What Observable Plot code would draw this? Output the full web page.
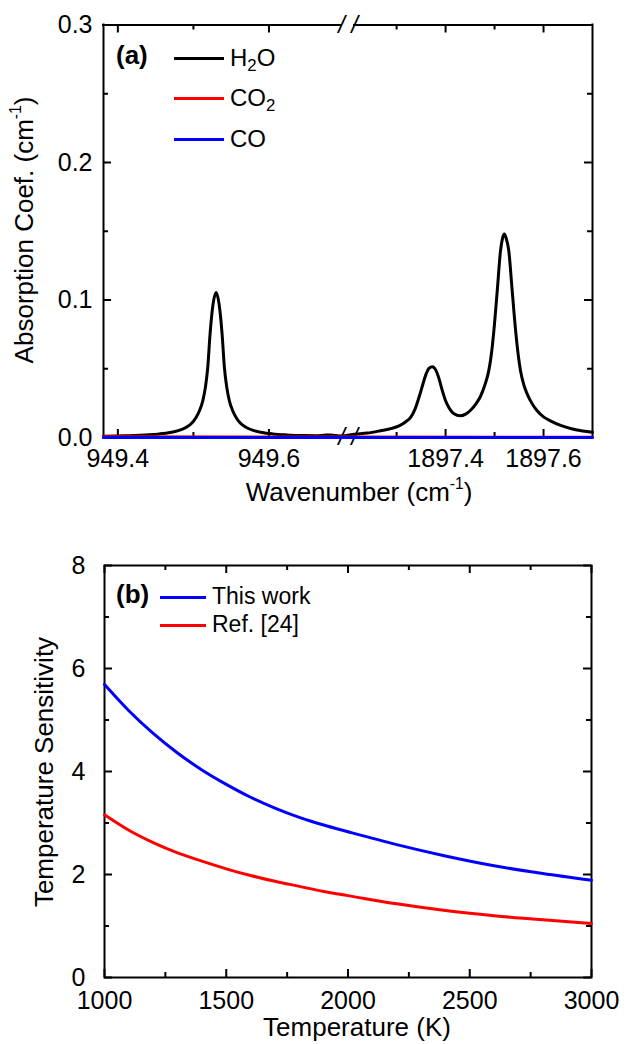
<!DOCTYPE html>
<html>
<head>
<meta charset="utf-8">
<script src="https://cdn.jsdelivr.net/npm/d3@7"></script>
<script src="https://cdn.jsdelivr.net/npm/@observablehq/plot@0.6"></script>
<style>
  body { margin: 0; background: #fff; font-family: "Liberation Sans", Arial, sans-serif; }
  #wrap { position: relative; width: 627px; height: 1044px; overflow: hidden; background: #fff; }
  #wrap > svg { position: absolute; left: 0; }
  .t { position: absolute; white-space: nowrap; line-height: 1; color: #000; }
  .t sup { font-size: 0.6em; vertical-align: baseline; position: relative; top: -0.75em; }
  .t sub { font-size: 0.7em; vertical-align: baseline; position: relative; top: 0.3em; }
  .sw { position: absolute; height: 3px; }
</style>
</head>
<body>
<div id="wrap"></div>
<script>
// ---------- Panel (a): absorption spectra (broken wavenumber axis) ----------
const wnLeftSeg = [949.381, 949.696];
const wnRightSeg = [1897.214, 1897.7];

const h2oWavenumber = [
  949.381, 949.41, 949.437, 949.455, 949.469, 949.480, 949.490, 949.497, 949.5035, 949.508,
  949.5124, 949.516, 949.519, 949.522, 949.526, 949.530, 949.534, 949.538, 949.541, 949.544,
  949.5476, 949.552, 949.5565, 949.562, 949.570, 949.580, 949.591, 949.605, 949.623, 949.645,
  949.662, 949.673, 949.681, 949.688, 949.696,
  1897.214, 1897.24, 1897.267, 1897.290, 1897.305, 1897.318, 1897.3286, 1897.338, 1897.3456, 1897.353,
  1897.359, 1897.366, 1897.373, 1897.380, 1897.3864, 1897.393, 1897.400, 1897.408, 1897.417, 1897.430,
  1897.441, 1897.451, 1897.462, 1897.4714, 1897.480, 1897.4884, 1897.494, 1897.4986, 1897.5055, 1897.5122,
  1897.516, 1897.520, 1897.524, 1897.529, 1897.536, 1897.543, 1897.548, 1897.553, 1897.560, 1897.5667,
  1897.576, 1897.587, 1897.600, 1897.614, 1897.635, 1897.655, 1897.680, 1897.700
];
const h2oAbsorption = [
  0.0010, 0.0012, 0.0019, 0.0026, 0.0036, 0.0050, 0.0073, 0.0100, 0.0146, 0.0195,
  0.0267, 0.0370, 0.0510, 0.0750, 0.0970, 0.1055, 0.0970, 0.0750, 0.0510, 0.0370,
  0.0267, 0.0195, 0.0146, 0.0105, 0.0073, 0.0050, 0.0036, 0.0026, 0.0019, 0.0014,
  0.0013, 0.0017, 0.0019, 0.0015, 0.0011,
  0.0024, 0.0032, 0.0049, 0.0066, 0.0085, 0.0113, 0.0146, 0.0210, 0.0291, 0.0380,
  0.0450, 0.0503, 0.0515, 0.0490, 0.0430, 0.0345, 0.0267, 0.0210, 0.0173, 0.0158,
  0.0170, 0.0198, 0.0245, 0.0300, 0.0380, 0.0490, 0.0620, 0.0777, 0.1068, 0.1359,
  0.1445, 0.1480, 0.1445, 0.1359, 0.1068, 0.0777, 0.0610, 0.0485, 0.0380, 0.0316,
  0.0250, 0.0194, 0.0150, 0.0121, 0.0088, 0.0066, 0.0048, 0.0038
];
const co2Wavenumber = [949.381, 949.696, 1897.214, 1897.7];
const co2Absorption = [0.0005, 0.0004, 0.0003, 0.0001];
const coWavenumber = [949.381, 949.696, 1897.214, 1897.7];
const coAbsorption = [0, 0, 0, 0];

const aMajorX = [949.4, 949.6, 1897.4, 1897.6];
const aMajorXLabels = ["949.4", "949.6", "1897.4", "1897.6"];
const aMinorX = [949.5, 1897.3, 1897.5];
const aMajorY = [0, 0.1, 0.2, 0.3];
const aMinorY = [0.05, 0.15, 0.25];

// ---------- Panel (b): temperature sensitivity ----------
const temperature = [1000, 1100, 1200, 1300, 1400, 1500, 1600, 1700, 1800, 1900, 2000, 2200, 2400, 2600, 2800, 3000];
const thisWork = [5.69, 5.18, 4.74, 4.36, 4.03, 3.75, 3.50, 3.29, 3.11, 2.96, 2.83, 2.58, 2.36, 2.17, 2.02, 1.89];
const ref24 = [3.16, 2.86, 2.62, 2.42, 2.26, 2.11, 1.98, 1.87, 1.77, 1.67, 1.59, 1.43, 1.30, 1.20, 1.12, 1.05];

const bMajorX = [1000, 1500, 2000, 2500, 3000];
const bMinorX = [1250, 1750, 2250, 2750];
const bMajorY = [0, 2, 4, 6, 8];
const bMinorY = [1, 3, 5, 7];

// ---------- broken-axis mapping (wavenumber -> position along axis) ----------
const uLeft = [0, 0.4867], uRight = [0.5133, 1];
function toU(w) {
  if (w < 1400) return uLeft[0] + (w - wnLeftSeg[0]) / (wnLeftSeg[1] - wnLeftSeg[0]) * (uLeft[1] - uLeft[0]);
  return uRight[0] + (w - wnRightSeg[0]) / (wnRightSeg[1] - wnRightSeg[0]) * (uRight[1] - uRight[0]);
}

const FONT = '"Liberation Sans", Arial, Helvetica, sans-serif';
const baseStyle = {fontFamily: FONT, fontSize: "25px", color: "black", background: "white", overflow: "visible"};

const h2o = h2oWavenumber.map((w, i) => ({w, a: h2oAbsorption[i]}));
const co2 = co2Wavenumber.map((w, i) => ({w, a: co2Absorption[i]}));
const co = coWavenumber.map((w, i) => ({w, a: coAbsorption[i]}));
const labelByU = new Map(aMajorX.map((w, i) => [toU(w), aMajorXLabels[i]]));

const yTop = aMajorY[aMajorY.length - 1];
const frameSegs = [
  {y: yTop, a: wnLeftSeg[0], b: wnLeftSeg[1]},
  {y: yTop, a: wnRightSeg[0], b: wnRightSeg[1]},
  {y: 0, a: wnLeftSeg[0], b: wnLeftSeg[1]},
  {y: 0, a: wnRightSeg[0], b: wnRightSeg[1]}
];
const breakMarks = [
  {w: wnLeftSeg[1], y: yTop}, {w: wnRightSeg[0], y: yTop},
  {w: wnLeftSeg[1], y: 0}, {w: wnRightSeg[0], y: 0}
];

const fhA = 412.5, fwA = 489;
const plotA = Plot.plot({
  width: 627, height: 520,
  marginTop: 24.5, marginBottom: 83, marginLeft: 103, marginRight: 35,
  x: {domain: [0, 1]},
  y: {domain: [0, 0.3]},
  style: baseStyle,
  marks: [
    Plot.ruleX([wnLeftSeg[0], wnRightSeg[1]], {x: d => toU(d), stroke: "black", strokeWidth: 2, strokeLinecap: "square"}),
    Plot.ruleY(frameSegs, {y: "y", x1: d => toU(d.a), x2: d => toU(d.b), stroke: "black", strokeWidth: 2, strokeLinecap: "square"}),
    // inward ticks (bottom / top)
    Plot.ruleX(aMajorX, {x: d => toU(d), insetTop: fhA - 8, stroke: "black", strokeWidth: 2}),
    Plot.ruleX(aMajorX, {x: d => toU(d), insetBottom: fhA - 8, stroke: "black", strokeWidth: 2}),
    Plot.ruleX(aMinorX, {x: d => toU(d), insetTop: fhA - 5, stroke: "black", strokeWidth: 2}),
    Plot.ruleX(aMinorX, {x: d => toU(d), insetBottom: fhA - 5, stroke: "black", strokeWidth: 2}),
    // inward ticks (left / right)
    Plot.ruleY(aMajorY, {y: d => d, insetRight: fwA - 8, stroke: "black", strokeWidth: 2}),
    Plot.ruleY(aMajorY, {y: d => d, insetLeft: fwA - 8, stroke: "black", strokeWidth: 2}),
    Plot.ruleY(aMinorY, {y: d => d, insetRight: fwA - 5, stroke: "black", strokeWidth: 2}),
    Plot.ruleY(aMinorY, {y: d => d, insetLeft: fwA - 5, stroke: "black", strokeWidth: 2}),
    Plot.axisX(aMajorX.map(toU), {tickSize: 0, tickPadding: 12, tickFormat: u => labelByU.get(u), label: null, fontSize: 25}),
    Plot.axisY(aMajorY, {tickSize: 0, tickPadding: 11, tickFormat: d3.format(".1f"), label: null, fontSize: 25}),
    Plot.text(breakMarks, {x: d => toU(d.w), y: "y", text: () => "/", fontSize: 24, fontStyle: "italic", lineAnchor: "middle", fill: "black"}),
    Plot.line(h2o, {x: d => toU(d.w), y: "a", stroke: "black", strokeWidth: 3, curve: "monotone-x"}),
    Plot.line(co2, {x: d => toU(d.w), y: "a", stroke: "#ff0000", strokeWidth: 3}),
    Plot.line(co, {x: d => toU(d.w), y: "a", stroke: "#0000ff", strokeWidth: 3})
  ]
});

const fhB = 412, fwB = 487;
const tsThis = temperature.map((t, i) => ({t, s: thisWork[i]}));
const tsRef = temperature.map((t, i) => ({t, s: ref24[i]}));
const plotB = Plot.plot({
  width: 627, height: 524,
  marginTop: 45, marginBottom: 67, marginLeft: 104, marginRight: 36,
  x: {domain: [1000, 3000]},
  y: {domain: [0, 8]},
  style: baseStyle,
  marks: [
    Plot.frame({stroke: "black", strokeWidth: 2}),
    Plot.ruleX(bMajorX, {x: d => d, insetTop: fhB - 8, stroke: "black", strokeWidth: 2}),
    Plot.ruleX(bMajorX, {x: d => d, insetBottom: fhB - 8, stroke: "black", strokeWidth: 2}),
    Plot.ruleX(bMinorX, {x: d => d, insetTop: fhB - 5, stroke: "black", strokeWidth: 2}),
    Plot.ruleX(bMinorX, {x: d => d, insetBottom: fhB - 5, stroke: "black", strokeWidth: 2}),
    Plot.ruleY(bMajorY, {y: d => d, insetRight: fwB - 8, stroke: "black", strokeWidth: 2}),
    Plot.ruleY(bMajorY, {y: d => d, insetLeft: fwB - 8, stroke: "black", strokeWidth: 2}),
    Plot.ruleY(bMinorY, {y: d => d, insetRight: fwB - 5, stroke: "black", strokeWidth: 2}),
    Plot.ruleY(bMinorY, {y: d => d, insetLeft: fwB - 5, stroke: "black", strokeWidth: 2}),
    Plot.axisX(bMajorX, {tickSize: 0, tickPadding: 14, tickFormat: d3.format("d"), label: null, fontSize: 25}),
    Plot.axisY(bMajorY, {tickSize: 0, tickPadding: 19, tickFormat: d3.format("d"), label: null, fontSize: 25}),
    Plot.line(tsThis, {x: "t", y: "s", stroke: "#0000ff", strokeWidth: 3, curve: "monotone-x"}),
    Plot.line(tsRef, {x: "t", y: "s", stroke: "#ff0000", strokeWidth: 3, curve: "monotone-x"})
  ]
});

const wrap = document.getElementById("wrap");
plotA.style.top = "0px";
plotB.style.top = "520px";
wrap.appendChild(plotA);
wrap.appendChild(plotB);

// ---------- titles and legends (HTML overlays) ----------
function addText(html, css) {
  const d = document.createElement("div");
  d.className = "t";
  d.innerHTML = html;
  Object.assign(d.style, css);
  wrap.appendChild(d);
  return d;
}
function addSwatch(color, left, cy, width) {
  const d = document.createElement("div");
  d.className = "sw";
  Object.assign(d.style, {background: color, left: left + "px", top: (cy - 1.5) + "px", width: width + "px"});
  wrap.appendChild(d);
}

// axis titles
addText("Wavenumber (cm<sup>-1</sup>)", {left: "359px", top: "479px", fontSize: "26px", transform: "translateX(-50%)"});
addText("Absorption Coef. (cm<sup>-1</sup>)", {left: "24px", top: "230px", fontSize: "26px", transform: "translate(-50%,-50%) rotate(-90deg)"});
addText("Temperature (K)", {left: "357px", top: "1014px", fontSize: "26px", transform: "translateX(-50%)"});
addText("Temperature Sensitivity", {left: "44px", top: "772px", fontSize: "26px", transform: "translate(-50%,-50%) rotate(-90deg)"});

// legend (a)
const legendA = [
  {html: "H<sub>2</sub>O", color: "#000000", cy: 58},
  {html: "CO<sub>2</sub>", color: "#ff0000", cy: 98},
  {html: "CO", color: "#0000ff", cy: 139}
];
addText("<b>(a)</b>", {left: "116px", top: "42px", fontSize: "26px"});
legendA.forEach(e => {
  addSwatch(e.color, 174, e.cy, 50);
  addText(e.html, {left: "230px", top: (e.cy - 12) + "px", fontSize: "24px"});
});

// legend (b)
const legendB = [
  {html: "This work", color: "#0000ff", cy: 597},
  {html: "Ref. [24]", color: "#ff0000", cy: 625}
];
addText("<b>(b)</b>", {left: "116px", top: "581px", fontSize: "26px"});
legendB.forEach(e => {
  addSwatch(e.color, 160, e.cy, 46);
  addText(e.html, {left: "212px", top: (e.cy - 12) + "px", fontSize: "23px"});
});
</script>
</body>
</html>
